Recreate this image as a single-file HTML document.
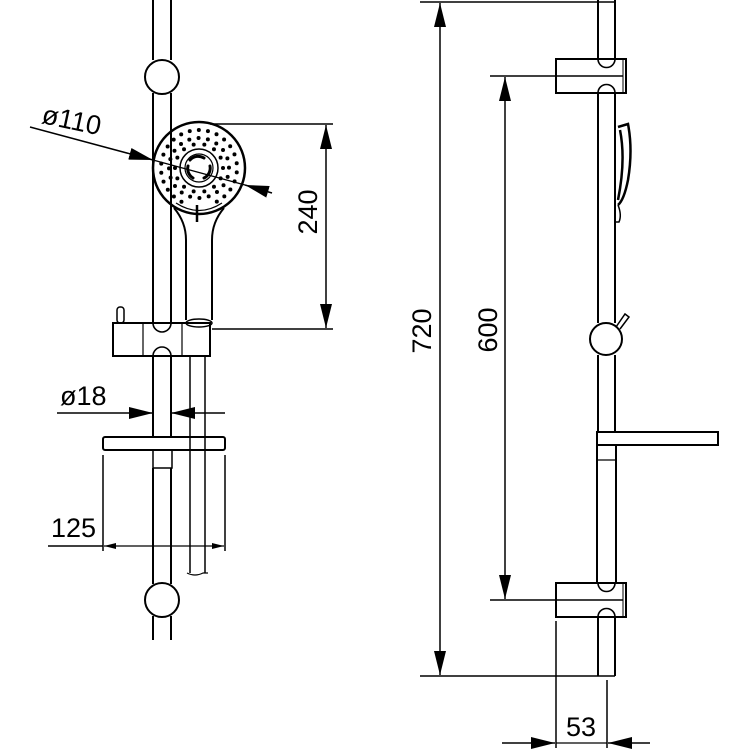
<!DOCTYPE html>
<html><head><meta charset="utf-8"><style>
html,body{margin:0;padding:0;background:#fff;}
svg{display:block;}
text{font-family:"Liberation Sans",sans-serif;font-size:27px;fill:#000;}
</style></head><body>
<svg id="s" width="750" height="750" viewBox="0 0 750 750" xmlns="http://www.w3.org/2000/svg">
<defs>
<marker id="a" viewBox="0 0 12 6" refX="12" refY="3" markerWidth="12" markerHeight="6" markerUnits="userSpaceOnUse" orient="auto"><path d="M0,0 L12,3 L0,6z" fill="#000"/></marker>
<marker id="b" viewBox="0 0 24 12" refX="24" refY="6" markerWidth="24" markerHeight="12" markerUnits="userSpaceOnUse" orient="auto"><path d="M0,0 L24,6 L0,12z" fill="#000"/></marker>
</defs>
<g fill="none" stroke="#000" stroke-width="2">
<line x1="153" y1="0" x2="153" y2="60"/><line x1="171" y1="0" x2="171" y2="60"/>
<circle cx="162" cy="77" r="17"/>
<line x1="153" y1="93" x2="153" y2="323"/><line x1="171" y1="93" x2="171" y2="323"/>
<line x1="153" y1="356" x2="153" y2="437"/><line x1="171" y1="356" x2="171" y2="437"/>
<line x1="153" y1="468" x2="153" y2="584"/><line x1="171" y1="468" x2="171" y2="584"/>
<circle cx="162" cy="600" r="17"/>
<line x1="153" y1="616" x2="153" y2="640"/><line x1="171" y1="616" x2="171" y2="640"/>
<rect x="113" y="323" width="97" height="33"/>
<path d="M153,323 a9,9 0 0 0 18,0 M153,356 a9,9 0 0 1 18,0" stroke-width="1.6"/>
<line x1="143" y1="323" x2="143" y2="356" stroke-width="1.2"/><line x1="182" y1="323" x2="182" y2="356" stroke-width="1.2"/>
<rect x="117" y="307" width="7" height="16" rx="3" stroke-width="1.5"/>
<line x1="190" y1="356" x2="190" y2="573" stroke-width="1.5"/><line x1="205" y1="356" x2="205" y2="573" stroke-width="1.5"/>
<path d="M187,573 q8,4 16,0 l5,0" stroke-width="1.2"/>
<circle cx="199" cy="168" r="46" stroke-width="2.5"/>
<circle cx="199" cy="168" r="19" stroke-width="1.5"/>
<circle cx="199" cy="168" r="14" stroke-width="1.2"/>
<path d="M174,208 Q186,222 186,240 L186,320 M224,208 Q212,222 212,240 L212,320" stroke-width="2"/>
<path d="M176,203 Q199,218 222,203" stroke-width="1.2"/>
<line x1="197" y1="205" x2="197" y2="222" stroke-width="2.5"/>
<ellipse cx="199" cy="323" rx="13" ry="4" stroke-width="1.5"/>
<rect x="103" y="437" width="122" height="13" rx="2"/>
<rect x="153" y="450" width="19" height="18" stroke-width="1.5"/>
<line x1="210" y1="124" x2="333" y2="124" stroke-width="1.5"/>
<line x1="212" y1="329" x2="333" y2="329" stroke-width="1.5"/>
<line x1="326" y1="200" x2="326" y2="125" marker-end="url(#b)" stroke-width="1.5"/>
<line x1="326" y1="250" x2="326" y2="328" marker-end="url(#b)" stroke-width="1.5"/>
<line x1="326" y1="200" x2="326" y2="250" stroke-width="1.5"/>
<line x1="30" y1="127" x2="153" y2="160" marker-end="url(#b)" stroke-width="1.5"/>
<line x1="153" y1="160" x2="245" y2="185" stroke-width="1.2"/>
<line x1="272" y1="193" x2="245" y2="185" marker-end="url(#b)" stroke-width="1.5"/>
<line x1="57" y1="413" x2="153" y2="413" marker-end="url(#b)" stroke-width="1.5"/>
<line x1="225" y1="413" x2="171" y2="413" marker-end="url(#b)" stroke-width="1.5"/>
<line x1="103" y1="455" x2="103" y2="551" stroke-width="1.5"/>
<line x1="225" y1="455" x2="225" y2="551" stroke-width="1.5"/>
<line x1="48" y1="546" x2="103" y2="546" stroke-width="1.5"/>
<line x1="150" y1="546" x2="104" y2="546" marker-end="url(#a)" stroke-width="1.2"/>
<line x1="150" y1="546" x2="224" y2="546" marker-end="url(#a)" stroke-width="1.2"/>

<line x1="598" y1="0" x2="598" y2="59"/><line x1="615" y1="0" x2="615" y2="59"/>
<rect x="556" y="59" width="70" height="34"/><line x1="623" y1="59" x2="623" y2="93" stroke-width="1"/>
<path d="M598,59 a8.5,8.5 0 0 0 17,0 M598,93 a8.5,8.5 0 0 1 17,0" stroke-width="1.6"/>
<line x1="598" y1="93" x2="598" y2="323"/><line x1="615" y1="93" x2="615" y2="323"/>
<circle cx="606" cy="339" r="16"/>
<path d="M616,327 L625,314 L629,317 L620,329" stroke-width="1.5"/>
<line x1="598" y1="355" x2="598" y2="432"/><line x1="615" y1="355" x2="615" y2="432"/>
<rect x="597" y="432" width="121" height="13"/>
<line x1="597" y1="445" x2="597" y2="583"/><line x1="616" y1="445" x2="616" y2="583"/>
<line x1="598" y1="460" x2="616" y2="460" stroke-width="1.2"/>
<rect x="556" y="583" width="70" height="34"/><line x1="623" y1="583" x2="623" y2="617" stroke-width="1"/>
<path d="M598,583 a8.5,8.5 0 0 0 17,0 M598,617 a8.5,8.5 0 0 1 17,0" stroke-width="1.6"/>
<line x1="598" y1="617" x2="598" y2="676"/><line x1="615" y1="617" x2="615" y2="676"/>
<path d="M618,127 L628,124 Q633,150 628,180 Q624,200 618,205 M620,130 Q626,160 618,200" stroke-width="2.5"/>
<path d="M618,205 Q622,215 619,222 L615,222" stroke-width="1.5"/>
<line x1="420" y1="2" x2="615" y2="2" stroke-width="1.5"/>
<line x1="420" y1="676" x2="615" y2="676" stroke-width="1.5"/>
<line x1="440" y1="300" x2="440" y2="3" marker-end="url(#b)" stroke-width="1.5"/>
<line x1="440" y1="300" x2="440" y2="675" marker-end="url(#b)" stroke-width="1.5"/>
<line x1="490" y1="76" x2="623" y2="76" stroke-width="1.5"/>
<line x1="490" y1="600" x2="623" y2="600" stroke-width="1.5"/>
<line x1="505" y1="300" x2="505" y2="77" marker-end="url(#b)" stroke-width="1.5"/>
<line x1="505" y1="300" x2="505" y2="599" marker-end="url(#b)" stroke-width="1.5"/>
<line x1="556" y1="621" x2="556" y2="748" stroke-width="1.5"/>
<line x1="607" y1="680" x2="607" y2="748" stroke-width="1.5"/>
<line x1="502" y1="743" x2="555" y2="743" marker-end="url(#b)" stroke-width="1.5"/>
<line x1="650" y1="743" x2="608" y2="743" marker-end="url(#b)" stroke-width="1.5"/>
<line x1="556" y1="743" x2="607" y2="743" stroke-width="1.2"/>
</g>
<g id="dots" fill="#000"></g>
<g fill="none" stroke="#000" stroke-width="3" stroke-linecap="round">
<path d="M190,160 A11,11 0 0 1 204,158"/><path d="M210,166 A11,11 0 0 1 204,178"/><path d="M193,178 A11,11 0 0 1 188,166"/>
</g>
<text x="42" y="130" transform="rotate(12 75 120)">ø110</text>
<text x="60" y="405">ø18</text>
<text x="51" y="537">125</text>
<text x="566" y="736">53</text>
<text transform="translate(317,212) rotate(-90)" text-anchor="middle">240</text>
<text transform="translate(431,331) rotate(-90)" text-anchor="middle">720</text>
<text transform="translate(497,330) rotate(-90)" text-anchor="middle">600</text>
</svg>
<script>
var g=document.getElementById('dots'),ns='http://www.w3.org/2000/svg';
[[24,14],[30,20],[38,26]].forEach(function(r,i){for(var k=0;k<r[1];k++){var a=k*2*Math.PI/r[1]+i*0.3;if(r[0]==38&&Math.abs(a-Math.PI/2)<0.3)continue;var c=document.createElementNS(ns,'circle');c.setAttribute('cx',199+r[0]*Math.cos(a));c.setAttribute('cy',168+r[0]*Math.sin(a));c.setAttribute('r',2);g.appendChild(c);}});
</script>
</body></html>
